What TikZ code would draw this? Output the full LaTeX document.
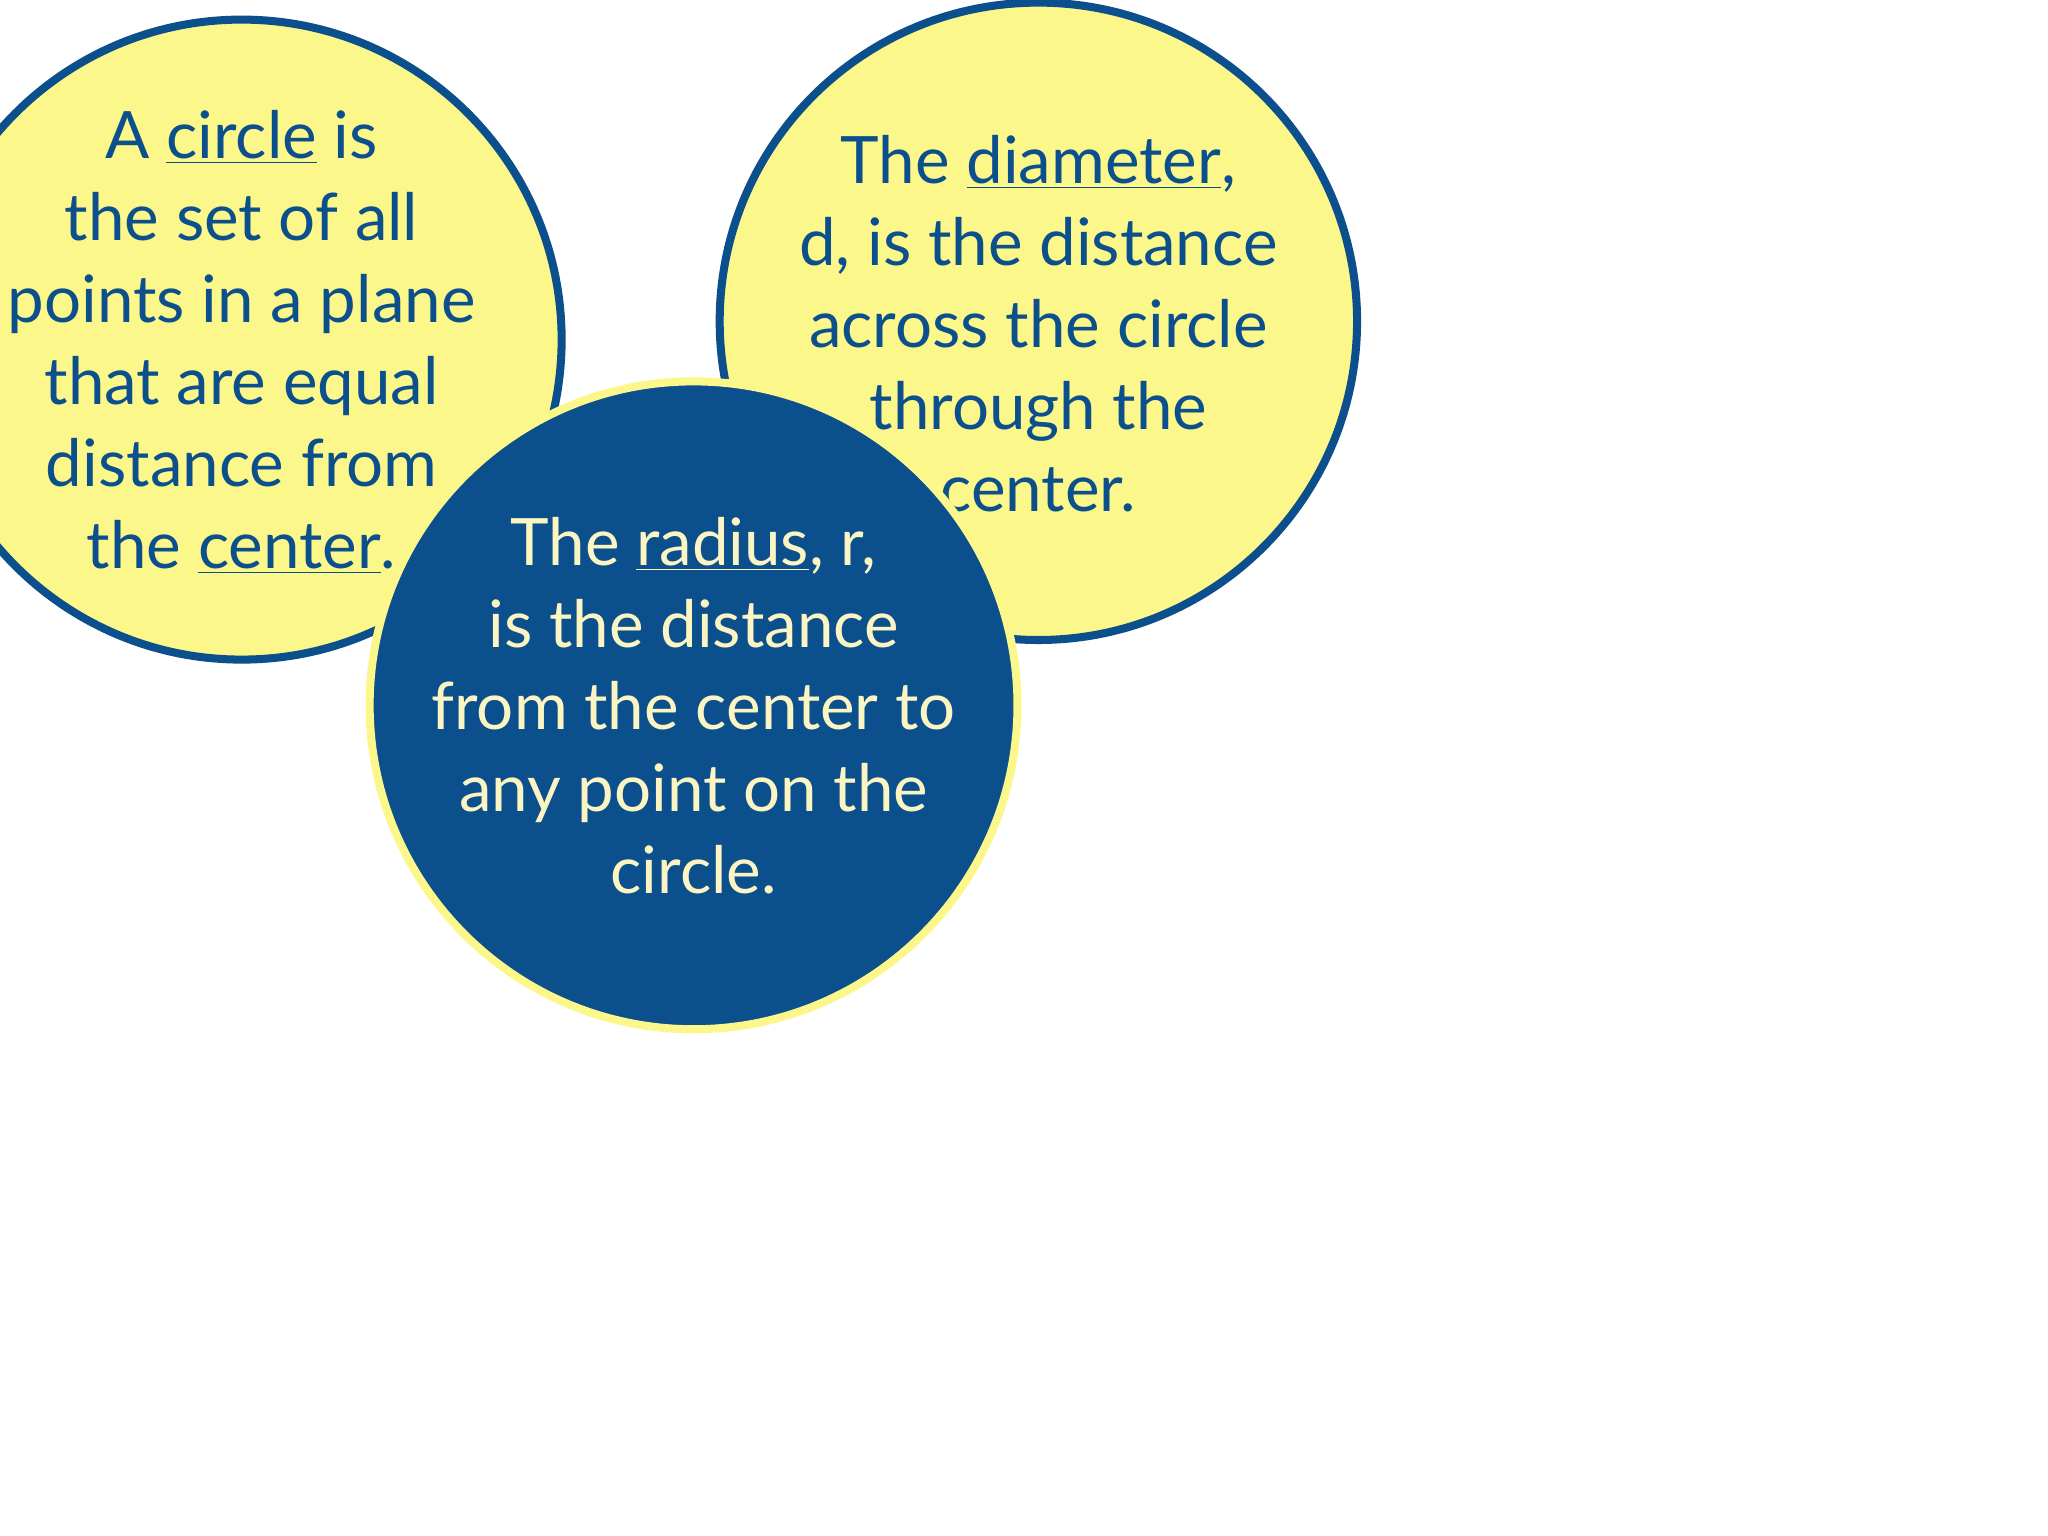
\documentclass[tikz,border=0pt]{standalone}
\usepackage{fontspec}
\setmainfont{Lato}
\definecolor{dblue}{HTML}{0B4F8C}
\definecolor{lyellow}{HTML}{FBF78A}
\definecolor{cream}{HTML}{FBF5C4}
\begin{document}
\begin{tikzpicture}[x=0.02cm,y=-0.02cm,
  txt/.style={align=center,font=\fontsize{28.5}{35.7}\selectfont}]
\useasboundingbox[fill=white] (0,0) rectangle (1568,1176);
\begin{scope}
\clip (0,0) rectangle (1568,1176);
\filldraw[fill=lyellow,draw=dblue,line width=3.5] (185,260) circle (245);
\node[txt,text=dblue] (t1) at (185,262) {A \underline{circle} is\\the set of all\\points in a plane\\that are equal\\distance from\\the \underline{center}.};
\filldraw[fill=lyellow,draw=dblue,line width=3.5] (795,246) circle (244);
\node[txt,text=dblue] (t2) at (795,248) {The \underline{diameter},\\d, is the distance\\across the circle\\through the\\center.};
\filldraw[fill=dblue,draw=lyellow,line width=3.5] (531,540) circle (248);
\node[txt,text=cream] (t3) at (531,540) {The \underline{radius}, r,\\is the distance\\from the center to\\any point on the\\circle.};
\end{scope}
\end{tikzpicture}
\end{document}
